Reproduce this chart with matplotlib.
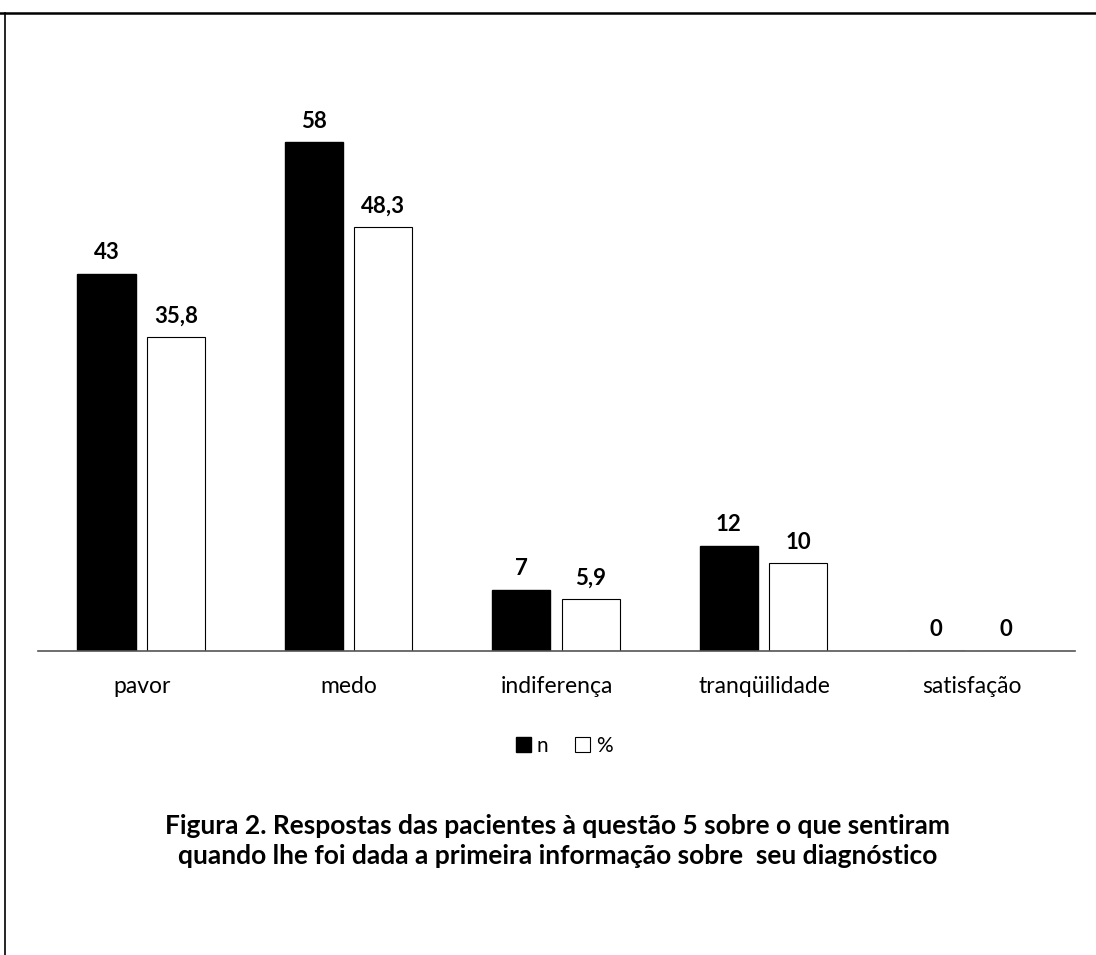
import matplotlib.pyplot as plt
import matplotlib.lines as mlines
import numpy as np

# categories and values
categories = ['pavor', 'medo', 'indiferença', 'tranqüilidade', 'satisfação']
n_values = [43, 58, 7, 12, 0]
pct_values = [35.8, 48.3, 5.9, 10, 0]
n_labels = ['43', '58', '7', '12', '0']
pct_labels = ['35,8', '48,3', '5,9', '10', '0']

FONT = 'Lato'
plt.rcParams['font.family'] = [FONT, 'DejaVu Sans']

fig = plt.figure(figsize=(10.96, 9.55), dpi=100)
ax = fig.add_axes([0.0347, 0.3183, 0.9464, 0.577])

x = np.arange(len(categories))
width = 0.28
bars_n = ax.bar(x - 0.17, n_values, width, color='black', edgecolor='black', label='n')
bars_p = ax.bar(x + 0.165, pct_values, width, color='white', edgecolor='black',
                linewidth=0.8, label='%')

# value labels above the bars
for b, lab in zip(bars_n, n_labels):
    ax.text(b.get_x() + b.get_width() / 2, b.get_height() + 1.2, lab,
            ha='center', va='bottom', fontsize=16, fontweight='bold')
for b, lab in zip(bars_p, pct_labels):
    ax.text(b.get_x() + b.get_width() / 2, b.get_height() + 1.2, lab,
            ha='center', va='bottom', fontsize=16, fontweight='bold')

ax.set_xlim(-0.5, 4.5)
ax.set_ylim(0, 62.8)
ax.set_xticks(x)
ax.set_xticklabels(categories, fontsize=16.5)
ax.tick_params(axis='x', length=0, pad=18)
ax.set_yticks([])

for side in ['top', 'right', 'left']:
    ax.spines[side].set_visible(False)
ax.spines['bottom'].set_color('#555555')
ax.spines['bottom'].set_linewidth(1.2)

# legend below the chart
fig.legend(handles=[bars_n, bars_p], labels=['n', '%'], loc='center',
           bbox_to_anchor=(0.515, 0.219), ncol=2, frameon=False, fontsize=15,
           handlelength=0.7, handleheight=0.7, handletextpad=0.3, columnspacing=1.3)

# caption
fig.text(0.509, 0.119,
         'Figura 2. Respostas das pacientes à questão 5 sobre o que sentiram\n'
         'quando lhe foi dada a primeira informação sobre  seu diagnóstico',
         ha='center', va='center', fontsize=19, fontweight='bold', linespacing=1.3)

# page border lines from the scan
fig.add_artist(mlines.Line2D([0, 1], [1 - 13 / 955, 1 - 13 / 955], color='black', linewidth=1.8))
fig.add_artist(mlines.Line2D([5 / 1096, 5 / 1096], [0, 1 - 13 / 955], color='black', linewidth=1.2))

fig.savefig('out.png', dpi=100, facecolor='white')
